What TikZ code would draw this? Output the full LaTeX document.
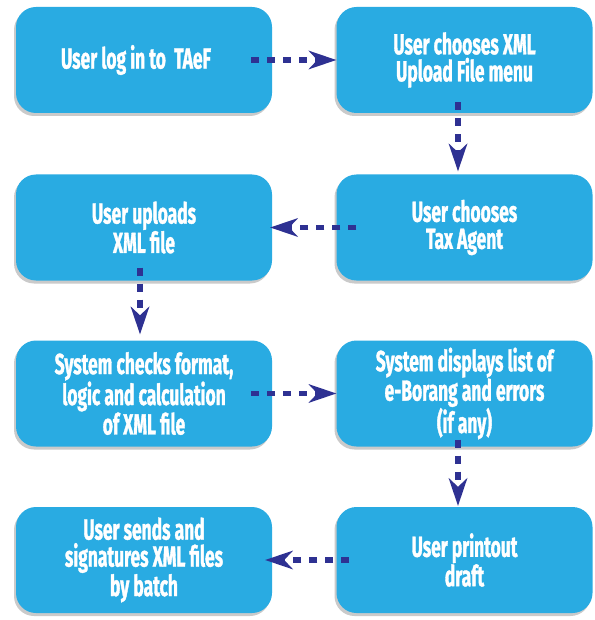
\documentclass[tikz,border=0pt]{standalone}
\usepackage{fontspec}
\newfontfamily\boxfont[FakeStretch=0.6, BoldFeatures={FakeBold=1.2}]{Fira Sans}
\usetikzlibrary{arrows.meta,shadows}
\definecolor{boxcyan}{HTML}{29ABE2}
\definecolor{arrowblue}{HTML}{2E3192}
\begin{document}
\begin{tikzpicture}[x=1pt,y=-1pt,
  stepbox/.style={rectangle, rounded corners=20pt, fill=boxcyan, draw=none,
    minimum width=256pt, minimum height=106pt, text=white, align=center,
    font=\boxfont\bfseries\fontsize{29}{27}\selectfont,
    drop shadow={shadow xshift=-2pt, shadow yshift=-3pt, opacity=0.35, fill=black!60}},
  arr/.style={arrowblue, line width=5.5pt, dash pattern=on 8pt off 8pt,
    -{Stealth[length=28pt, width=19pt, inset=9pt, line width=0pt]}}
]
\useasboundingbox (0,0) rectangle (594,620);
\node[stepbox] (a) at (144,60) {User log in to\ \ TAeF\hspace*{16pt}};
\node[stepbox] (b) at (464.5,60) {User chooses XML\\Upload File menu};
\node[stepbox] (c) at (464.5,227.5) {User chooses\\Tax Agent};
\node[stepbox] (d) at (144,227.5) {User uploads\\XML file};
\node[stepbox] (e) at (144,393.5) {System checks format,\\logic and calculation\\of XML file};
\node[stepbox] (f) at (464.5,393.5) {System displays list of\\e-Borang and errors\\(if any)};
\node[stepbox] (g) at (464.5,560) {User printout\\draft};
\node[stepbox] (h) at (144,560) {User sends and\\signatures XML files\\by batch};
\draw[arr] ([xshift=-21pt]a.east) -- (b.west);
\draw[arr] ([xshift=-6.5pt,yshift=11pt]b.south) -- ([xshift=-6.5pt,yshift=3pt]c.north);
\draw[arr] ([xshift=20pt]c.west) -- ([xshift=-2pt]d.east);
\draw[arr] ([xshift=-4pt,yshift=13pt]d.south) -- ([xshift=-4pt,yshift=6pt]e.north);
\draw[arr] ([xshift=-21pt]e.east) -- (f.west);
\draw[arr] ([xshift=-6.5pt,yshift=7pt]f.south) -- ([xshift=-6.5pt,yshift=1pt]g.north);
\draw[arr] ([xshift=13pt]g.west) -- ([xshift=-7pt]h.east);
\end{tikzpicture}
\end{document}
